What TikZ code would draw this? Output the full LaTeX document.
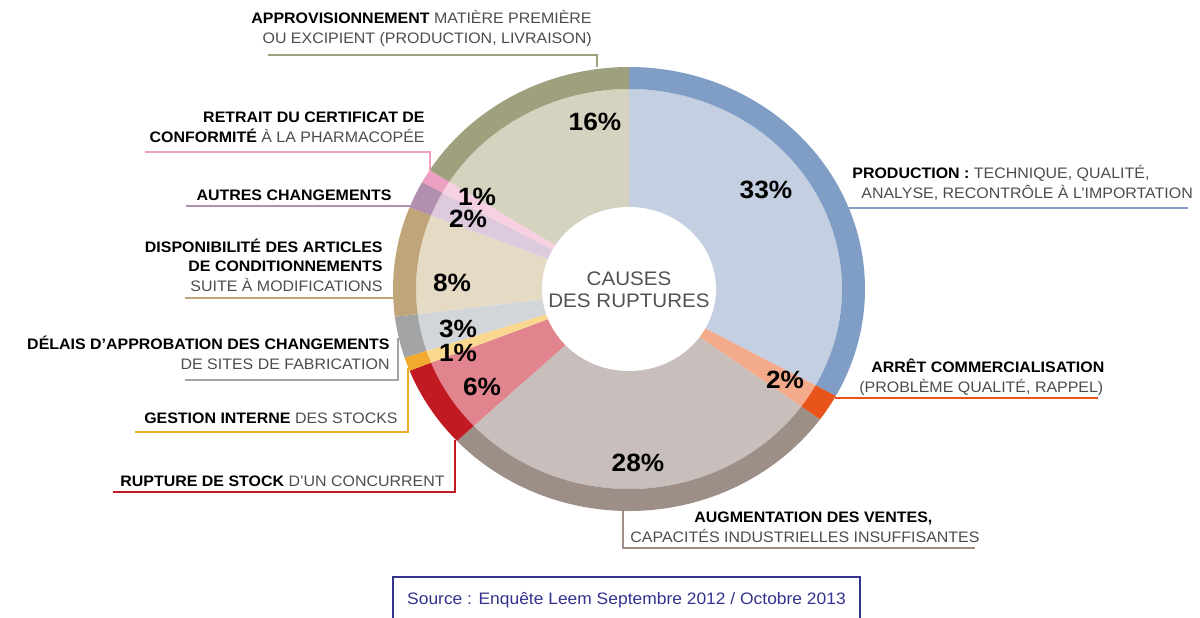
\documentclass[tikz,border=0pt]{standalone}
\usepackage{fontspec}
\setmainfont{Liberation Sans}[FakeStretch=1.05]
\usepackage{tikz}
\definecolor{prodL}{HTML}{C4CFE2}\definecolor{prodD}{HTML}{7F9DC5}
\definecolor{arretL}{HTML}{F3AB8C}\definecolor{arretD}{HTML}{E8541A}
\definecolor{augmL}{HTML}{C8BEBB}\definecolor{augmD}{HTML}{9D8E88}
\definecolor{ruptL}{HTML}{E2848D}\definecolor{ruptD}{HTML}{C11A22}
\definecolor{gestL}{HTML}{FAD890}\definecolor{gestD}{HTML}{F2AA2E}
\definecolor{delaiL}{HTML}{D3D6D9}\definecolor{delaiD}{HTML}{A3A4A6}
\definecolor{dispoL}{HTML}{E5DAC4}\definecolor{dispoD}{HTML}{BFA579}
\definecolor{autreL}{HTML}{DDCADD}\definecolor{autreD}{HTML}{B28FAF}
\definecolor{retraitL}{HTML}{F7D0E1}\definecolor{retraitD}{HTML}{EEA0C2}
\definecolor{approL}{HTML}{D5D3BF}\definecolor{approD}{HTML}{9FA07D}
\colorlet{colorText}{black!70}
\colorlet{colorSource}{blue!45!black!80}
\newcommand{\bfpart}[1]{\textbf{\color{black}#1}}
\tikzset{
  lbl/.style={font=\fontsize{7.6}{9.6}\selectfont, text=colorText, inner sep=0pt},
  lblR/.style={lbl, align=right, anchor=base east},
  lblL/.style={lbl, align=left, anchor=base west},
  pct/.style={font=\fontsize{12.5}{13}\selectfont\bfseries, inner sep=0pt},
  callout/.style={line width=1.2pt}
}

\begin{document}
\begin{tikzpicture}[x=0.5pt, y=-0.5pt]
\useasboundingbox (0,0) rectangle (1200,617);
\begin{scope}[shift={(629,289)}]
\foreach \a/\b/\lc/\dc in {-90/28.8/prodL/prodD, 28.8/36/arretL/arretD, 36/136.8/augmL/augmD, 136.8/158.4/ruptL/ruptD, 158.4/162/gestL/gestD, 162/172.8/delaiL/delaiD, 172.8/201.6/dispoL/dispoD, 201.6/208.8/autreL/autreD, 208.8/212.4/retraitL/retraitD, 212.4/270/approL/approD}{
  \fill[\lc] (0,0) -- (\a:213 and 200) arc[start angle=\a, end angle=\b, x radius=213, y radius=200] -- cycle;
  \fill[\dc] (\a:213 and 200) -- (\a:236 and 222) arc[start angle=\a, end angle=\b, x radius=236, y radius=222] -- (\b:213 and 200) arc[start angle=\b, end angle=\a, x radius=213, y radius=200] -- cycle;
}
\fill[white] (0,0) ellipse[x radius=87, y radius=82];
\end{scope}
\node[font=\fontsize{9.8}{10.8}\selectfont, text=black!68, align=center] (causes) at (629,290) {CAUSES\\DES RUPTURES};

\node[pct] (p33) at (766,190) {33\%};
\node[pct] (p16) at (595,122) {16\%};
\node[pct] (p1a) at (477,197) {1\%};
\node[pct] (p2a) at (468,219) {2\%};
\node[pct] (p8) at (452,283) {8\%};
\node[pct] (p3) at (458,329) {3\%};
\node[pct] (p1b) at (458,353) {1\%};
\node[pct] (p6) at (482,387) {6\%};
\node[pct] (p28) at (638,463) {28\%};
\node[pct] (p2b) at (785,380) {2\%};

\node[lblR] (appro) at (592,43) {\bfpart{APPROVISIONNEMENT} MATIÈRE PREMIÈRE\\OU EXCIPIENT (PRODUCTION, LIVRAISON)};
\node[lblR] (retrait) at (425,142) {\bfpart{RETRAIT DU CERTIFICAT DE}\\\bfpart{CONFORMITÉ} À LA PHARMACOPÉE};
\node[lblR] (autres) at (392,200) {\bfpart{AUTRES CHANGEMENTS}};
\node[lblR] (dispo) at (383,291) {\bfpart{DISPONIBILITÉ DES ARTICLES}\\\bfpart{DE CONDITIONNEMENTS}\\SUITE À MODIFICATIONS};
\node[lblR] (delais) at (390,369) {\bfpart{DÉLAIS D'APPROBATION DES CHANGEMENTS}\\DE SITES DE FABRICATION};
\node[lblR] (gestion) at (398,423) {\bfpart{GESTION INTERNE} DES STOCKS};
\node[lblR] (rupture) at (445,486) {\bfpart{RUPTURE DE STOCK} D'UN CONCURRENT};
\node[lblL] (prod) at (852,198) {\bfpart{PRODUCTION :} TECHNIQUE, QUALITÉ,\\\hspace*{4.5pt}ANALYSE, RECONTRÔLE À L'IMPORTATION};
\node[lblL] (arret) at (859,392) {\hspace*{6pt}\bfpart{ARRÊT COMMERCIALISATION}\\(PROBLÈME QUALITÉ, RAPPEL)};
\node[lblL] (augm) at (630,542) {\hspace*{32pt}\bfpart{AUGMENTATION DES VENTES,}\\CAPACITÉS INDUSTRIELLES INSUFFISANTES};

\coordinate (approFree) at (268,55);   \coordinate (approRing) at (597,67);
\coordinate (retraitFree) at (145,152); \coordinate (retraitRing) at (430,175);
\coordinate (autresFree) at (186,206);  \coordinate (autresRing) at (410,206);
\coordinate (dispoFree) at (185,298);   \coordinate (dispoRing) at (394,298);
\coordinate (delaisFree) at (185,380);  \coordinate (delaisRing) at (398,338);
\coordinate (gestionFree) at (135,432); \coordinate (gestionRing) at (408,368);
\coordinate (ruptureFree) at (113,492); \coordinate (ruptureRing) at (455,440);
\coordinate (prodRing) at (849,208);    \coordinate (prodFree) at (1188,208);
\coordinate (arretRing) at (835,398);   \coordinate (arretFree) at (1098,398);
\coordinate (augmRing) at (623,510);    \coordinate (augmFree) at (975,548);

\draw[callout, approD] (approFree) -| (approRing);
\draw[callout, retraitD] (retraitFree) -| (retraitRing);
\draw[callout, autreD] (autresFree) -- (autresRing);
\draw[callout, dispoD] (dispoFree) -- (dispoRing);
\draw[callout, delaiD] (delaisFree) -| (delaisRing);
\draw[callout, gestD] (gestionFree) -| (gestionRing);
\draw[callout, ruptD] (ruptureFree) -| (ruptureRing);
\draw[callout, prodD] (prodRing) -- (prodFree);
\draw[callout, arretD] (arretRing) -- (arretFree);
\draw[callout, augmD] (augmRing) |- (augmFree);

\node[draw=colorSource, line width=0.8pt, text=colorSource, font=\fontsize{8.3}{10}\selectfont, minimum width=233.5pt, minimum height=23pt] (src) at (626.5,600) {Source : Enquête Leem Septembre 2012 / Octobre 2013};
\end{tikzpicture}
\end{document}
